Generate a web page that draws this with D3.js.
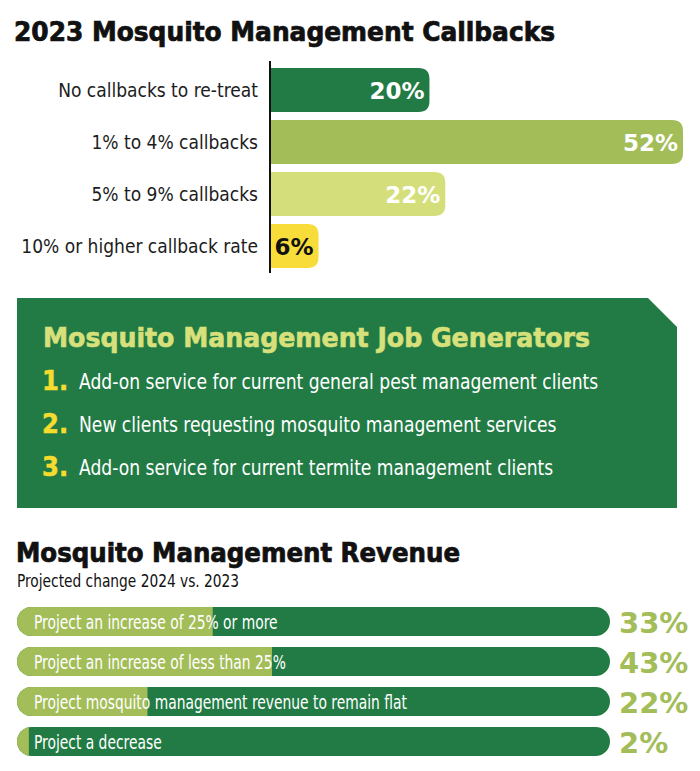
<!DOCTYPE html>
<html><head><meta charset="utf-8">
<script src="https://cdn.jsdelivr.net/npm/d3@7/dist/d3.min.js"></script>
<style>
html,body{margin:0;padding:0;background:#fff;}
svg{display:block;}
</style></head>
<body>
<svg id="chart" width="700" height="771"></svg>
<script>
// ---- DATA ----
const callbackCategories = ["No callbacks to re-treat", "1% to 4% callbacks", "5% to 9% callbacks", "10% or higher callback rate"];
const callbackValues = [20, 52, 22, 6];
const callbackTitle = "2023 Mosquito Management Callbacks";

const generatorTitle = "Mosquito Management Job Generators";
const generatorRanks = ["1.", "2.", "3."];
const generatorItems = ["Add-on service for current general pest management clients", "New clients requesting mosquito management services", "Add-on service for current termite management clients"];

const revenueTitle = "Mosquito Management Revenue";
const revenueSubtitle = "Projected change 2024 vs. 2023";
const revenueCategories = ["Project an increase of 25% or more", "Project an increase of less than 25%", "Project mosquito management revenue to remain flat", "Project a decrease"];
const revenueValues = [33, 43, 22, 2];

// ---- STYLE ----
const DARK = "#227b45", OLIVE = "#a3bd59", LIGHT = "#d4df7b", YELLOW = "#f8dd3a";
const callbackColors = [DARK, OLIVE, LIGHT, YELLOW];
const HEAVY = "'DejaVu Sans Condensed', 'DejaVu Sans', sans-serif";
const NARROW = "'DejaVu Sans Condensed', sans-serif";
const WIDE = "'DejaVu Sans', sans-serif";

const svg = d3.select("#chart");

// squeeze text horizontally by a factor (condensed look)
function squeeze(sel, f) {
  sel.each(function () {
    const L = this.getComputedTextLength();
    d3.select(this).attr("textLength", L * f).attr("lengthAdjust", "spacingAndGlyphs");
  });
  return sel;
}

// ---------- Section 1 ----------
svg.append("text").attr("x", 14).attr("y", 41)
  .attr("font-family", HEAVY).attr("font-weight", "bold").attr("font-size", 26)
  .attr("textLength", 541).attr("lengthAdjust", "spacingAndGlyphs")
  .attr("fill", "#111").attr("stroke", "#111").attr("stroke-width", 0.7)
  .text(callbackTitle);

const y1 = d3.scaleBand().domain(callbackCategories).range([64, 272])
  .paddingInner(8/52).paddingOuter(4/52);
const x1 = d3.scaleLinear().domain([0, d3.max(callbackValues)]).range([271, 683]);

function rightRounded(x0, y0, w, h, r) {
  r = Math.min(r, w, h/2);
  return `M${x0},${y0}H${x0+w-r}Q${x0+w},${y0} ${x0+w},${y0+r}V${y0+h-r}Q${x0+w},${y0+h} ${x0+w-r},${y0+h}H${x0}Z`;
}

const g1 = svg.append("g");
callbackCategories.forEach((c, i) => {
  const v = callbackValues[i];
  const yy = y1(c), h = y1.bandwidth();
  g1.append("path").attr("d", rightRounded(x1(0), yy, x1(v) - x1(0), h, 11))
    .attr("fill", callbackColors[i]);
  g1.append("text").attr("x", x1(v) - 5).attr("y", yy + h/2 + 8.5)
    .attr("text-anchor", "end").attr("font-family", WIDE).attr("font-weight", "bold")
    .attr("font-size", 23).attr("fill", i === 3 ? "#111" : "#fff").text(v + "%");
  squeeze(g1.append("text").attr("x", 258).attr("y", yy + h/2 + 7)
    .attr("text-anchor", "end").attr("font-family", NARROW)
    .attr("font-size", 20).attr("fill", "#1c1c1c").text(c), 0.95);
});
g1.append("line").attr("x1", 270).attr("x2", 270).attr("y1", 61).attr("y2", 273)
  .attr("stroke", "#111").attr("stroke-width", 2);

// ---------- Section 2: panel ----------
svg.append("path")
  .attr("d", "M17,298H648L677,327V508H17Z")
  .attr("fill", DARK);
svg.append("text").attr("x", 43).attr("y", 347)
  .attr("font-family", HEAVY).attr("font-weight", "bold").attr("font-size", 27)
  .attr("textLength", 547).attr("lengthAdjust", "spacingAndGlyphs")
  .attr("fill", "#d7e07a").attr("stroke", "#d7e07a").attr("stroke-width", 0.6)
  .text(generatorTitle);
const yItems = d3.scalePoint().domain(generatorItems).range([381, 467]);
generatorItems.forEach((t, i) => {
  svg.append("text").attr("x", 42).attr("y", yItems(t) + 9)
    .attr("font-family", HEAVY).attr("font-weight", "bold").attr("font-size", 27)
    .attr("fill", "#f5dc2f").attr("stroke", "#f5dc2f").attr("stroke-width", 0.5)
    .text(generatorRanks[i]);
  squeeze(svg.append("text").attr("x", 79).attr("y", yItems(t) + 7.5)
    .attr("font-family", NARROW).attr("font-size", 20.5)
    .attr("fill", "#fff").text(t), 0.93);
});

// ---------- Section 3 ----------
svg.append("text").attr("x", 16).attr("y", 562)
  .attr("font-family", HEAVY).attr("font-weight", "bold").attr("font-size", 26)
  .attr("textLength", 444).attr("lengthAdjust", "spacingAndGlyphs")
  .attr("fill", "#111").attr("stroke", "#111").attr("stroke-width", 0.7)
  .text(revenueTitle);
squeeze(svg.append("text").attr("x", 17).attr("y", 587)
  .attr("font-family", NARROW).attr("font-size", 17)
  .attr("fill", "#111").text(revenueSubtitle), 0.9);

const y3 = d3.scaleBand().domain(revenueCategories).range([601.5, 761.5])
  .paddingInner(0.275).paddingOuter(0.1375);
const x3 = d3.scaleLinear().domain([0, 100]).range([17, 610]);
const defs = svg.append("defs");
revenueCategories.forEach((c, i) => {
  const v = revenueValues[i];
  const yy = y3(c), h = y3.bandwidth();
  const id = "pill" + i;
  defs.append("clipPath").attr("id", id).append("rect")
    .attr("x", x3(0)).attr("y", yy).attr("width", x3(100) - x3(0)).attr("height", h)
    .attr("rx", h/2).attr("ry", h/2);
  const g = svg.append("g").attr("clip-path", `url(#${id})`);
  g.append("rect").attr("x", x3(0)).attr("y", yy).attr("width", x3(100) - x3(0)).attr("height", h).attr("fill", DARK);
  g.append("rect").attr("x", x3(0)).attr("y", yy).attr("width", x3(v) - x3(0)).attr("height", h).attr("fill", OLIVE);
  squeeze(svg.append("text").attr("x", 34).attr("y", yy + h/2 + 7)
    .attr("font-family", NARROW).attr("font-size", 20)
    .attr("fill", "#fff").text(c), 0.77);
  svg.append("text").attr("x", 619).attr("y", yy + h/2 + 11)
    .attr("font-family", WIDE).attr("font-weight", "bold").attr("font-size", 29)
    .attr("fill", OLIVE).text(v + "%");
});
</script>
</body></html>
